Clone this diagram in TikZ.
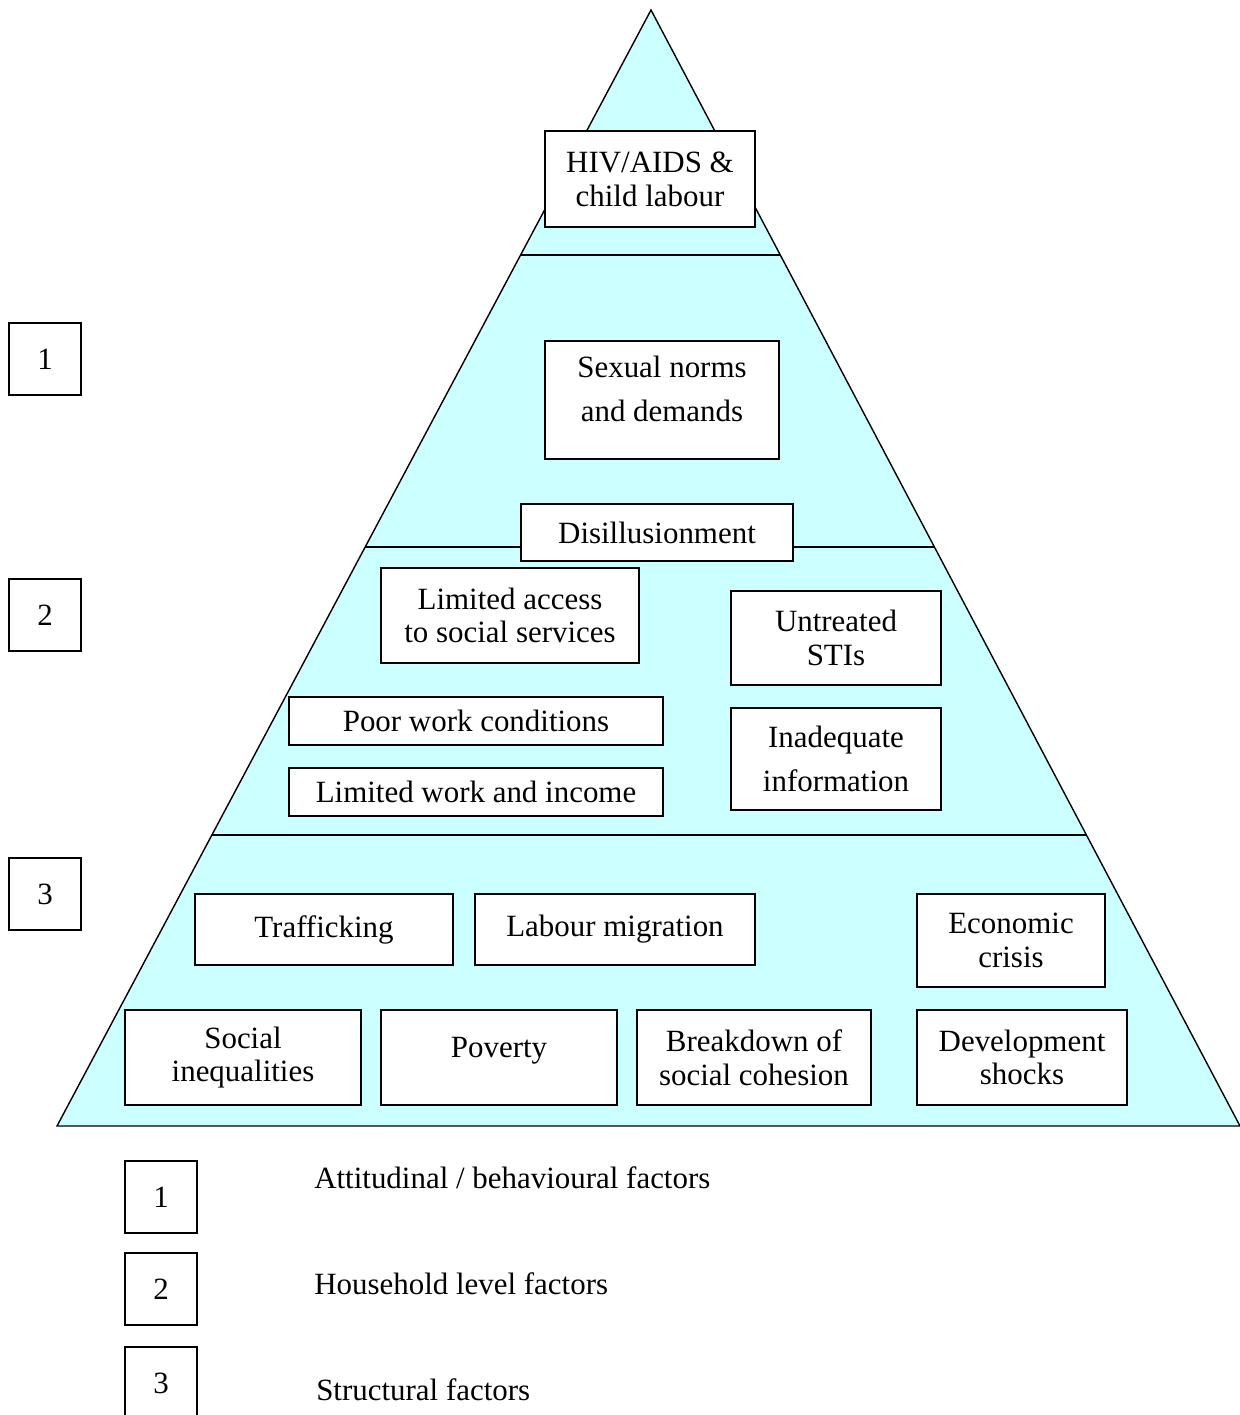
\documentclass[tikz,border=0pt]{standalone}
\usepackage{fontspec}
\setmainfont{Liberation Serif}
\usepackage{tikz}
\usetikzlibrary{calc}
\definecolor{pyramidcyan}{RGB}{204,255,255}

\begin{document}
\begin{tikzpicture}[
            x=0.025cm, y=-0.025cm,
            factor box/.style={rectangle,draw,fill=white,line width=1pt,align=center,inner sep=2pt,font=\fontsize{22}{24}\selectfont},
            level box/.style={rectangle,draw,fill=white,line width=1pt,minimum width=1.8cm,minimum height=1.8cm,font=\fontsize{22}{24}\selectfont},
            legend text/.style={anchor=west,inner sep=0pt,font=\fontsize{22}{24}\selectfont},
            band line/.style={draw,line width=1pt},
        ]
            \useasboundingbox (0,0) rectangle (1240,1415);

            % pyramid
            \coordinate (apex) at (651,10);
            \coordinate (bl) at (57,1126);
            \coordinate (br) at (1240,1126);
            \draw[fill=pyramidcyan,line width=1pt,line join=miter] (apex) -- (br) -- (bl) -- cycle;
            \draw[band line] ($(apex)!0.2195!(bl)$) -- ($(apex)!0.2195!(br)$);
            \draw[band line] ($(apex)!0.4812!(bl)$) -- ($(apex)!0.4812!(br)$);
            \draw[band line] ($(apex)!0.7392!(bl)$) -- ($(apex)!0.7392!(br)$);

            % top
            \node[factor box, minimum width=5.25cm, minimum height=2.4cm] (hiv) at (650,179) {HIV/AIDS \&\\child labour};

            % level 1
            \node[factor box, minimum width=5.85cm, minimum height=2.95cm] (sexual) at (662,400) {Sexual norms\\[0.25cm]and demands\\[-0.3cm]~};
            \node[factor box, minimum width=6.8cm, minimum height=1.425cm] (disill) at (657,532.5) {Disillusionment};

            % level 2
            \node[factor box, minimum width=6.45cm, minimum height=2.375cm] (access) at (510,615.5) {Limited access\\to social services};
            \node[factor box, minimum width=5.25cm, minimum height=2.35cm] (stis) at (836,638) {Untreated\\STIs};
            \node[factor box, minimum width=9.35cm, minimum height=1.2cm] (poorwork) at (476,721) {Poor work conditions};
            \node[factor box, minimum width=9.35cm, minimum height=1.2cm] (income) at (476,792) {Limited work and income};
            \node[factor box, minimum width=5.25cm, minimum height=2.55cm] (info) at (836,759) {Inadequate\\[0.25cm]information};

            % level 3
            \node[factor box, minimum width=6.45cm, minimum height=1.775cm] (trafficking) at (324,929.5) {Trafficking};
            \node[factor box, minimum width=7.0cm, minimum height=1.775cm] (migration) at (615,929.5) {Labour migration};
            \node[factor box, minimum width=4.7cm, minimum height=2.325cm] (crisis) at (1011,940.5) {Economic\\crisis};
            \node[factor box, minimum width=5.9cm, minimum height=2.375cm] (inequal) at (243,1057.5) {Social\\inequalities};
            \node[factor box, minimum width=5.9cm, minimum height=2.375cm] (poverty) at (499,1057.5) {Poverty\\[-0.35cm]~};
            \node[factor box, minimum width=5.85cm, minimum height=2.375cm] (cohesion) at (754,1057.5) {Breakdown of\\social cohesion};
            \node[factor box, minimum width=5.25cm, minimum height=2.375cm] (shocks) at (1022,1057.5) {Development\\shocks};

            % level numbers
            \node[level box] (level1) at (45,359) {1};
            \node[level box] (level2) at (45,615) {2};
            \node[level box] (level3) at (45,894) {3};

            % legend
            \node[level box] (key1) at (161,1197) {1};
            \node[level box] (key2) at (161,1289) {2};
            \node[level box] (key3) at (161,1383) {3};
            \node[legend text] (key1_text) at (314,1178) {Attitudinal / behavioural factors};
            \node[legend text] (key2_text) at (314,1284) {Household level factors};
            \node[legend text] (key3_text) at (316,1390) {Structural factors};
        \end{tikzpicture}
\end{document}
